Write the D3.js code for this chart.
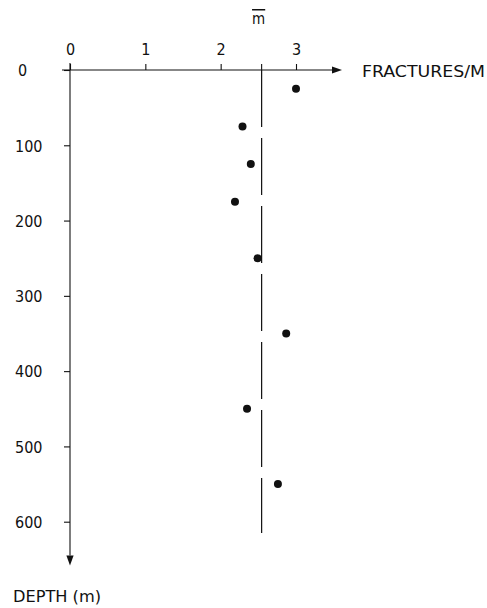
<!DOCTYPE html>
<html>
<head>
<meta charset="utf-8">
<script src="https://cdn.jsdelivr.net/npm/d3@7"></script>
<style>
  html, body { margin: 0; padding: 0; background: #fff; }
  svg { display: block; }
  text { font-family: "Liberation Sans Narrow", "DejaVu Sans Condensed", "Liberation Sans", sans-serif; fill: #111; }
</style>
</head>
<body>
<svg id="chart" width="487" height="608"></svg>
<script>
// Fracture frequency measured in depth intervals of a borehole
const depths = [25, 75, 125, 175, 250, 350, 450, 550];          // m
const fractures = [3.0, 2.29, 2.40, 2.19, 2.49, 2.87, 2.35, 2.76]; // fractures per metre
const xTicks = [0, 1, 2, 3];
const depthTicks = [0, 100, 200, 300, 400, 500, 600];
const xLabel = "FRACTURES/M";
const yLabel = "DEPTH (m)";
const meanLabel = "m";

const meanValue = d3.mean(fractures);

const svg = d3.select("#chart");
const ink = "#111";

const x = d3.scaleLinear().domain([0, 3]).range([70, 296]);
const y = d3.scaleLinear().domain([0, 600]).range([70, 521.7]);

// horizontal axis (fractures per metre) along the top
const xAxis = svg.append("g")
  .attr("transform", `translate(0,${y(0)})`)
  .call(d3.axisTop(x).tickValues(xTicks).tickSize(6).tickPadding(9).tickFormat(d3.format("d")));
xAxis.select(".domain").remove();
xAxis.selectAll("line").attr("stroke", ink).attr("stroke-width", 1.1);
xAxis.selectAll("text").attr("font-size", 16).style("font-family", null);

// vertical axis (depth) on the left
const yAxis = svg.append("g")
  .attr("transform", `translate(${x(0)},0)`)
  .call(d3.axisLeft(y).tickValues(depthTicks).tickSize(6).tickFormat(d3.format("d")));
yAxis.select(".domain").remove();
yAxis.selectAll("line").attr("stroke", ink).attr("stroke-width", 1.1);
yAxis.selectAll("text")
  .attr("font-size", 16).style("font-family", null)
  .attr("text-anchor", "start")
  .attr("x", d => d === 0 ? 18 - x(0) : 15 - x(0))
  .attr("dy", "0.36em");

// axis lines with arrow heads
const xEnd = 332;
svg.append("line")
  .attr("x1", x(0) - 8).attr("x2", xEnd)
  .attr("y1", y(0)).attr("y2", y(0))
  .attr("stroke", ink).attr("stroke-width", 1.1);
svg.append("path")
  .attr("d", `M${xEnd},${y(0) - 3.4}L${xEnd + 10},${y(0)}L${xEnd},${y(0) + 3.4}Z`)
  .attr("fill", ink);

svg.append("line")
  .attr("x1", x(0)).attr("x2", x(0))
  .attr("y1", y(0) - 7).attr("y2", y(645))
  .attr("stroke", ink).attr("stroke-width", 1.1);
svg.append("path")
  .attr("d", `M${x(0) - 3.6},${y(645)}L${x(0)},${y(645) + 10}L${x(0) + 3.6},${y(645)}Z`)
  .attr("fill", ink);

// mean fracture frequency: tick on the axis plus long-dashed line
svg.append("line")
  .attr("x1", x(meanValue)).attr("x2", x(meanValue))
  .attr("y1", y(0) - 6).attr("y2", y(0))
  .attr("stroke", ink).attr("stroke-width", 1.1);
svg.append("line")
  .attr("x1", x(meanValue)).attr("x2", x(meanValue))
  .attr("y1", y(0)).attr("y2", y(615))
  .attr("stroke", ink).attr("stroke-width", 1.2)
  .attr("stroke-dasharray", "57,11");

svg.append("text")
  .attr("x", x(meanValue) - 3).attr("y", 24)
  .attr("text-anchor", "middle")
  .attr("font-size", 15)
  .style("text-decoration", "overline")
  .text(meanLabel);

// axis titles
svg.append("text")
  .attr("x", 362).attr("y", 77)
  .attr("font-size", 16)
  .attr("textLength", 123).attr("lengthAdjust", "spacingAndGlyphs")
  .text(xLabel);
svg.append("text")
  .attr("x", 13).attr("y", 602)
  .attr("font-size", 16)
  .attr("textLength", 88).attr("lengthAdjust", "spacingAndGlyphs")
  .text(yLabel);

// measured fracture frequencies
svg.append("g")
  .selectAll("circle")
  .data(depths.map((d, i) => ({ depth: d, value: fractures[i] })))
  .join("circle")
  .attr("cx", d => x(d.value))
  .attr("cy", d => y(d.depth))
  .attr("r", 4)
  .attr("fill", ink);
</script>
</body>
</html>
